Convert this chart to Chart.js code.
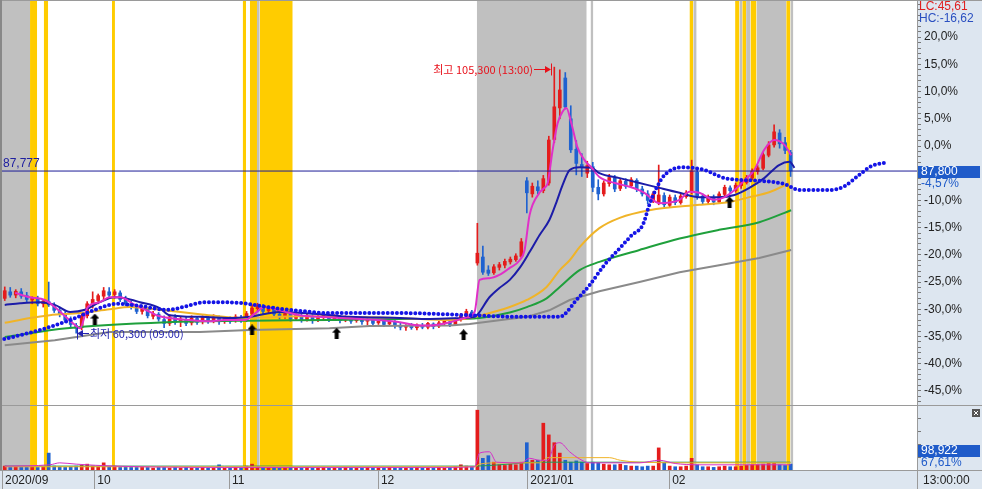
<!DOCTYPE html>
<html lang="ko">
<head>
<meta charset="utf-8">
<title>주가 차트</title>
<script src="https://cdn.jsdelivr.net/npm/chart.js@4.4.1/dist/chart.umd.min.js"></script>
<style>
  html, body { margin: 0; padding: 0; background: #fff; }
  #wrap { width: 982px; height: 489px; }
</style>
</head>
<body>
<div id="wrap"><canvas id="chart" width="982" height="489"></canvas></div>
<script>
// 가격은 기준가 대비 % (오른쪽 축 단위)
const opens = [
  -28.0,-26.8,-27.4,-26.8,-27.5,-28.3,-28.0,-29.0,-28.6,-29.3,
  -30.2,-31.0,-32.0,-33.0,-33.4,-31.2,-29.2,-28.4,-27.6,-26.8,
  -27.3,-27.0,-28.2,-29.0,-29.7,-30.4,-30.0,-31.3,-30.9,-31.9,
  -32.6,-31.5,-32.3,-31.9,-32.5,-31.7,-32.3,-31.6,-32.1,-31.5,
  -32.2,-31.8,-32.1,-31.5,-32.0,-30.8,-29.9,-29.5,-30.3,-29.9,
  -30.9,-31.3,-30.9,-31.7,-31.2,-31.9,-31.4,-32.0,-31.5,-31.2,
  -31.8,-31.4,-32.0,-31.6,-32.1,-31.7,-32.2,-32.0,-32.5,-32.1,
  -32.7,-32.3,-33.0,-33.3,-33.1,-33.4,-33.0,-33.3,-32.7,-33.1,
  -32.6,-32.3,-32.8,-31.9,-31.3,-30.5,-21.5,-20.4,-22.8,-23.3,
  -22.3,-21.9,-21.3,-20.9,-20.3,-6.4,-8.8,-7.5,-8.2,-6.8,
  1.2,7.0,12.5,5.0,-0.6,-3.4,-5.0,-3.8,-7.6,-8.8,
  -6.9,-5.9,-7.8,-6.5,-7.3,-6.3,-7.9,-8.8,-10.1,-10.4,
  -9.1,-10.9,-9.5,-10.4,-9.3,-8.4,-4.8,-9.2,-10.2,-9.5,
  -10.3,-8.9,-7.7,-8.2,-7.3,-6.7,-5.9,-4.7,-4.1,-1.7,
  0.2,2.4,0.6,-1.2
];
const highs = [
  -25.9,-26.0,-26.4,-26.2,-26.9,-27.7,-27.6,-28.2,-25.0,-28.8,
  -29.6,-30.4,-31.4,-32.6,-30.8,-28.6,-26.8,-27.2,-26.0,-26.0,
  -26.4,-26.6,-27.6,-28.4,-29.2,-29.4,-29.8,-30.4,-30.6,-31.2,
  -31.0,-31.0,-31.4,-31.5,-31.2,-31.3,-31.2,-31.2,-31.0,-31.2,
  -31.3,-31.4,-31.0,-31.1,-30.4,-29.2,-28.9,-29.1,-29.4,-29.5,
  -30.2,-30.4,-30.5,-30.8,-30.8,-30.9,-31.0,-31.0,-30.8,-30.9,
  -31.0,-31.1,-31.2,-31.3,-31.3,-31.5,-31.6,-31.8,-31.8,-31.9,
  -32.0,-32.1,-32.5,-32.8,-32.6,-32.7,-32.6,-32.4,-32.5,-32.2,
  -32.0,-32.0,-31.6,-30.8,-30.0,-30.2,-14.2,-18.4,-22.0,-21.8,
  -21.4,-20.8,-20.4,-19.8,-17.0,-5.8,-6.8,-6.4,-5.4,1.8,
  14.5,14.0,13.5,7.4,1.0,-1.4,-2.8,-3.0,-6.2,-6.4,
  -5.2,-5.4,-6.0,-6.0,-5.8,-6.0,-7.4,-8.2,-8.4,-3.5,
  -8.6,-9.0,-9.0,-8.8,-8.2,-2.6,-4.2,-8.8,-9.0,-9.0,
  -8.4,-7.2,-7.3,-6.8,-6.2,-5.4,-4.2,-3.6,-1.2,0.8,
  3.9,3.0,1.6,-0.8
];
const lows = [
  -28.4,-27.8,-27.9,-28.0,-28.6,-29.0,-29.4,-29.6,-29.5,-30.6,
  -31.4,-32.4,-33.2,-34.4,-33.8,-31.6,-29.8,-29.0,-28.2,-27.8,
  -28.0,-28.6,-29.4,-30.0,-30.8,-30.9,-31.6,-31.8,-32.2,-33.4,
  -33.0,-32.8,-33.2,-33.0,-32.9,-32.8,-32.7,-32.6,-32.5,-32.8,
  -32.6,-32.6,-32.4,-32.4,-32.3,-31.2,-30.4,-30.8,-30.7,-31.2,
  -31.8,-31.7,-32.2,-32.0,-32.4,-32.2,-32.6,-32.3,-31.9,-32.3,
  -32.1,-32.5,-32.3,-32.6,-32.4,-32.8,-32.9,-33.1,-32.8,-33.2,
  -33.0,-33.5,-33.8,-33.9,-33.7,-33.8,-33.6,-33.6,-33.6,-33.4,
  -33.0,-33.2,-33.0,-32.2,-31.6,-31.6,-21.9,-23.6,-23.8,-23.6,
  -22.8,-22.4,-21.7,-21.2,-20.6,-12.3,-9.4,-8.8,-8.6,-7.2,
  0.6,5.0,6.8,-1.2,-5.3,-5.6,-5.8,-8.4,-9.9,-9.2,
  -7.4,-8.4,-8.2,-7.8,-7.6,-8.4,-9.2,-10.6,-10.4,-10.8,
  -11.2,-11.2,-10.8,-10.7,-9.6,-8.8,-9.8,-10.6,-10.6,-10.8,
  -10.6,-9.2,-8.6,-8.5,-7.8,-7.0,-6.2,-5.2,-4.4,-2.0,
  -0.2,-0.4,-1.4,-5.6
];
const closes = [
  -26.6,-27.4,-26.7,-27.6,-28.2,-27.9,-29.0,-28.5,-29.2,-30.2,
  -31.0,-32.0,-32.8,-33.5,-31.2,-29.0,-28.2,-27.5,-26.6,-27.4,
  -26.8,-28.2,-29.0,-29.6,-30.4,-29.8,-31.2,-30.8,-31.8,-32.6,
  -31.4,-32.4,-31.8,-32.6,-31.6,-32.4,-31.5,-32.2,-31.4,-32.3,
  -31.7,-32.2,-31.4,-32.0,-30.8,-29.8,-29.4,-30.4,-29.8,-30.9,
  -31.4,-30.8,-31.8,-31.1,-32.0,-31.3,-32.1,-31.4,-31.1,-31.9,
  -31.3,-32.1,-31.5,-32.2,-31.6,-32.3,-31.9,-32.6,-32.0,-32.8,
  -32.2,-33.0,-33.3,-33.0,-33.4,-32.9,-33.3,-32.6,-33.2,-32.5,
  -32.2,-32.8,-31.8,-31.2,-30.4,-31.2,-19.7,-23.2,-23.4,-22.2,
  -21.8,-21.2,-20.8,-20.2,-17.6,-8.6,-7.4,-8.2,-6.0,1.1,
  7.2,10.3,7.2,-0.7,-3.2,-4.0,-3.6,-7.6,-8.8,-6.8,
  -5.8,-7.9,-6.4,-7.4,-6.2,-7.9,-8.8,-10.0,-8.8,-9.0,
  -10.8,-9.4,-10.4,-9.2,-8.6,-4.6,-9.2,-10.2,-9.4,-10.3,
  -8.8,-7.6,-8.2,-7.2,-6.6,-5.8,-4.6,-4.0,-1.6,0.2,
  2.6,0.4,-0.8,-4.57
];
// 거래량 (하단 패널, 0~100)
const volumes = [
  6,4,5,4,4,5,4,5,26,6,
  5,4,5,6,7,9,6,5,11,5,
  6,4,5,4,4,5,4,3,4,4,
  3,4,3,4,3,3,4,3,3,8,
  3,3,4,3,6,9,5,4,3,4,
  3,3,4,3,3,4,3,3,4,3,
  3,3,4,3,3,3,4,3,3,3,
  4,3,3,3,3,4,3,3,3,4,
  3,4,5,8,6,5,92,18,22,12,
  8,7,9,8,12,42,15,15,72,54,
  42,26,15,12,14,12,10,12,11,9,
  8,8,9,7,6,6,5,6,6,34,
  11,6,5,5,6,18,8,5,5,4,
  5,6,5,5,6,7,8,8,9,10,
  10,8,7,9
];

// 이동평균선 [봉 위치, %]
const ma5Pts = [[1.9,-27.0],[4.6,-27.8],[7.3,-28.3],[9.1,-29.6],[11,-31.3],[12.8,-32.9],[13.7,-33.5],[15.1,-29.6],[17.3,-28.7],[19.1,-27.8],[21,-27.8],[23.7,-29.2],[26.4,-30.5],[28.2,-31.3],[30,-31.6],[33.7,-32.0],[37,-32.2],[40,-32.0],[43.7,-32.0],[45.5,-30.8],[47.3,-29.6],[50,-30.2],[53.7,-31.1],[57.3,-31.4],[61,-31.6],[66.4,-31.9],[71.9,-32.4],[74.6,-32.9],[77.3,-33.0],[81,-32.4],[83.7,-31.6],[85.5,-30.5],[86.4,-24.6],[88.2,-24.3],[90,-23.7],[91.9,-22.4],[93.7,-21.0],[94.6,-19.1],[95.5,-12.7],[97.3,-8.6],[98.2,-7.7],[98.8,-6.8],[99.7,-0.7],[100.6,4.2],[101.5,6.3],[102.2,7.0],[103.1,4.2],[104.2,-0.2],[105.5,-2.6],[106.8,-4.0],[108.2,-5.7],[111,-6.8],[113.7,-7.5],[116.4,-8.6],[119.1,-10.5],[122.8,-9.9],[124.6,-8.4],[126.4,-8.6],[129.1,-9.9],[131,-9.4],[132.8,-8.1],[134.6,-6.3],[136.4,-4.4],[138.2,-0.7],[140,1.1],[141.9,0.2],[143.1,-1.7]];
const ma20Pts = [[0,-29.2],[2.8,-28.9],[6.4,-28.7],[9.1,-29.2],[11.9,-30.5],[14.6,-30.1],[17.3,-28.7],[20,-27.8],[21.9,-28.0],[24.6,-28.7],[28.2,-29.8],[30,-31.1],[35.5,-31.4],[41.9,-31.6],[44.6,-31.4],[50,-30.5],[57.3,-30.9],[62.8,-31.4],[71.9,-31.6],[77.3,-31.8],[83.7,-31.6],[85.5,-31.4],[88.2,-27.8],[90,-26.1],[91.9,-24.6],[93.7,-22.4],[95.5,-19.5],[97.3,-16.4],[99.1,-13.6],[100.4,-10.3],[101.5,-7.2],[102.8,-4.4],[104.6,-3.9],[106.8,-4.0],[108.2,-5.0],[111.9,-5.9],[115.5,-6.8],[119.1,-7.7],[122.8,-8.6],[126.4,-9.4],[130,-9.4],[132.8,-9.0],[135.5,-7.7],[138.2,-5.9],[140.9,-3.5],[142.8,-2.9],[143.7,-4.0]];
const ma60Pts = [[0,-32.5],[4.6,-31.6],[8.2,-31.1],[13.7,-30.7],[19.1,-30.0],[22.8,-29.6],[28.2,-30.1],[35.5,-30.9],[42.8,-31.6],[53.7,-31.3],[61,-31.4],[71.9,-31.6],[81,-32.0],[84.6,-31.6],[86.4,-31.2],[91.9,-29.6],[95,-28.3],[98.6,-25.9],[101,-22.8],[102.8,-21.0],[104.6,-18.6],[108.2,-15.1],[111.9,-13.2],[117.3,-11.8],[126.4,-10.8],[131.9,-10.3],[135.5,-9.4],[139.1,-8.5],[142.8,-6.8]];
const ma120Pts = [[0,-35.1],[11.3,-33.5],[29.5,-32.4],[44.6,-32.1],[59.1,-32.0],[71.9,-31.8],[81,-31.8],[86.4,-31.6],[91.9,-30.6],[95,-29.6],[98.6,-28.0],[101,-25.9],[104.6,-22.8],[108.2,-21.3],[115.5,-19.1],[122.8,-17.0],[130,-15.4],[137.3,-14.0],[143.1,-11.8]];
const ma240Pts = [[0,-36.6],[9.1,-35.7],[19.1,-34.2],[35.5,-34.2],[44.6,-33.8],[59.1,-33.5],[66.4,-33.1],[81,-33.0],[84.6,-32.7],[86.4,-32.5],[95,-31.4],[99.1,-30.2],[102.8,-28.3],[108.2,-26.7],[115.5,-25.0],[122.8,-23.2],[130,-21.9],[137.3,-20.6],[143.1,-19.1]];
// 점선 (선행 지표)
const dotPts = [[-0.9,-35.7],[6.4,-33.8],[11.9,-32.0],[16.4,-30.1],[20.4,-29.0],[24.6,-29.4],[29.5,-30.1],[36.8,-28.7],[43.3,-28.9],[47.7,-29.6],[53.7,-30.3],[59.1,-30.7],[71.9,-30.7],[84.6,-31.1],[93.7,-31.4],[101,-31.4],[101.9,-30.9],[103.7,-28.7],[106.4,-25.6],[109.1,-21.9],[111.9,-18.8],[114.1,-16.4],[116.1,-14.5],[117.3,-10.8],[118.6,-7.7],[120.1,-5.3],[123.3,-3.9],[127.3,-4.4],[131,-5.9],[137.3,-6.4],[141.9,-7.0],[144.6,-8.1],[150.1,-8.1],[152.8,-7.4],[155.5,-5.3],[157.7,-3.7],[160.1,-3.1]];
// 거래량 이동평균
const volMa5Pts = [[0,6],[8.2,8],[10,11],[13,9],[20,6],[40,4],[80,4],[85.5,5],[86.4,26],[88.2,28],[89.5,12],[94,11],[95.5,18],[97.3,15],[98.8,15],[100,38],[101,42],[102.8,28],[104.6,17],[106.4,11],[115.5,11],[119.1,15],[122,10],[126,8],[143,8]];
const volMa20Pts = [[0,5],[40,5],[85.5,5],[86.4,9],[90,11],[97.3,11],[98.8,19],[110,19],[112,15],[115.5,12],[125,11],[143,11]];
const volMa60Pts = [[0,6],[40,6],[85.5,6],[90,8],[97.3,12],[143,12]];

// 매수 신호 화살표
const arrowX = [16.4, 45, 60.4, 83.5, 131.9];
const arrowY = [-31.8, -33.8, -34.4, -34.7, -10.3];

// 배경 구간 [시작, 끝]
const grayBands = [[-0.5,4.6],[45.9,46.4],[85.9,105.9],[106.6,107.1],[125.3,125.9],[133.7,134.2],[134.9,135.7],[136.8,142.2],[142.96,143.5]];
const yellowBands = [[4.6,5.9],[7.1,7.9],[19.5,20.05],[43.3,43.9],[44.6,45.9],[46.4,52.4],[124.6,125.3],[132.9,133.7],[134.2,134.9],[135.7,136.8],[142.2,142.96]];

const monthPos = [-0.5, 16.3, 40.8, 67.9, 95.1, 120.9];
const monthLabels = ['2020/09', '10', '11', '12', '2021/01', '02'];
const yLabelVals = [20, 15, 10, 5, 0, -5, -10, -15, -20, -25, -30, -35, -40, -45];
const volTickVals = [20, 40, 60, 80];

const refLinePct = -4.6;
const refLineText = '87,777';
const lastPriceText = '87,800';
const lastPctText = '-4,57%';
const volText = '98,922';
const volPctText = '67,61%';
const volLabelAt = 29;
const lcText = 'LC:45,61';
const hcText = 'HC:-16,62';
const timeText = '13:00:00';
const hiText = '최고 105,300 (13:00)';
const loText = '최저 60,300 (09:00)';

const xMin = -0.5, xMax = 166;
const yMin = -47.6, yMax = 26.65;

const upColor = '#e41c1c';
const downColor = '#1f62d0';
const NUM_FONT = '12px "Liberation Sans", Arial, sans-serif';
const KR_FONT = '11px "Noto Sans CJK KR", sans-serif';

const idx = closes.map((_, i) => i);
const candleColor = i => closes[i] >= opens[i] ? upColor : downColor;
const toPts = arr => arr.map(([x, y]) => ({x, y}));

function makeArrow() {
    const c = document.createElement('canvas');
    c.width = 9; c.height = 11;
    const g = c.getContext('2d');
    g.fillStyle = '#000';
    g.beginPath();
    g.moveTo(4.5, 0); g.lineTo(9, 5); g.lineTo(6.5, 5); g.lineTo(6.5, 11);
    g.lineTo(2.5, 11); g.lineTo(2.5, 5); g.lineTo(0, 5);
    g.closePath(); g.fill();
    return c;
}

function lineSet(pts, color, width, axis, extra) {
    return Object.assign({
        type: 'line', yAxisID: axis, data: toPts(pts),
        borderColor: color, borderWidth: width, pointRadius: 0,
        tension: 0, cubicInterpolationMode: 'monotone', fill: false, order: 1
    }, extra || {});
}

function bandSet(band, color) {
    return {
        type: 'line', yAxisID: 'yb',
        data: [{x: band[0], y: 1}, {x: band[1], y: 1}],
        borderWidth: 0, borderColor: 'transparent', pointRadius: 0,
        backgroundColor: color, fill: 'start', order: 10
    };
}

function seg(ctx, x1, y1, x2, y2) {
    ctx.beginPath(); ctx.moveTo(x1, y1); ctx.lineTo(x2, y2); ctx.stroke();
}

// 배경, 구분선, 라벨
const decor = {
    id: 'decor',
    beforeDraw(chart) {
        const {ctx, chartArea: a, width, height} = chart;
        ctx.save();
        ctx.fillStyle = '#fff';
        ctx.fillRect(0, 0, width, height);
        ctx.fillStyle = '#dde6f0';
        ctx.fillRect(a.right, 0, width - a.right, height);
        ctx.fillRect(0, a.bottom, width, height - a.bottom);
        ctx.restore();
    },
    afterDraw(chart) {
        const {ctx, chartArea: a, width, height} = chart;
        const {x, y, yv} = chart.scales;
        ctx.save();
        ctx.lineWidth = 1;
        ctx.strokeStyle = '#9a9a9a';
        seg(ctx, 0, 0.5, width, 0.5);
        seg(ctx, 0, Math.round(yv.top) + 0.5, width, Math.round(yv.top) + 0.5);
        seg(ctx, 0, Math.round(a.bottom) + 0.5, width, Math.round(a.bottom) + 0.5);
        monthPos.forEach(v => {
            const px = Math.round(x.getPixelForValue(v)) + 0.5;
            seg(ctx, px, a.bottom, px, height);
        });
        seg(ctx, Math.round(a.right) + 0.5, a.bottom, Math.round(a.right) + 0.5, height);
        ctx.strokeStyle = '#888';
        ctx.lineWidth = 2;
        seg(ctx, 1, 0, 1, a.bottom);

        // 최고가 표시
        const iHi = highs.indexOf(Math.max(...highs));
        const hx = Math.round(x.getPixelForValue(iHi));
        const hy = Math.round(y.getPixelForValue(highs[iHi])) + 2.5;
        ctx.lineWidth = 1;
        ctx.strokeStyle = ctx.fillStyle = '#e8101a';
        seg(ctx, hx - 20, hy, hx - 6, hy);
        ctx.beginPath();
        ctx.moveTo(hx - 3, hy); ctx.lineTo(hx - 9, hy - 3.5); ctx.lineTo(hx - 9, hy + 3.5);
        ctx.closePath(); ctx.fill();
        seg(ctx, hx - 2.5, hy - 6, hx - 2.5, hy + 6);
        ctx.font = KR_FONT;
        ctx.textAlign = 'right';
        ctx.textBaseline = 'middle';
        ctx.fillText(hiText, hx - 21, hy);

        // 최저가 표시
        const iLo = lows.indexOf(Math.min(...lows));
        const lx = Math.round(x.getPixelForValue(iLo));
        const ly = Math.round(y.getPixelForValue(lows[iLo])) + 0.5;
        ctx.strokeStyle = ctx.fillStyle = '#2424b0';
        seg(ctx, lx + 5, ly, lx + 13, ly);
        ctx.beginPath();
        ctx.moveTo(lx + 1, ly); ctx.lineTo(lx + 7, ly - 3.5); ctx.lineTo(lx + 7, ly + 3.5);
        ctx.closePath(); ctx.fill();
        seg(ctx, lx + 1.5, ly - 6, lx + 1.5, ly + 6);
        ctx.textAlign = 'left';
        ctx.fillText(loText, lx + 14, ly);

        // 기준선 라벨
        const ry = y.getPixelForValue(refLinePct);
        ctx.font = NUM_FONT;
        ctx.fillStyle = '#2020a0';
        ctx.textBaseline = 'bottom';
        ctx.fillText(refLineText, 3, ry - 1);

        // 오른쪽 패널 라벨
        const rx = a.right + 2;
        ctx.textBaseline = 'top';
        ctx.fillStyle = '#e02020';
        ctx.fillText(lcText, rx, 1);
        ctx.fillStyle = '#2a4fc0';
        ctx.fillText(hcText, rx, 13);

        const py = Math.round(y.getPixelForValue(closes[closes.length - 1]));
        ctx.fillStyle = '#1f5bc9';
        ctx.fillRect(a.right + 1, py - 5, width - a.right - 3, 12);
        ctx.fillStyle = '#fff';
        ctx.textBaseline = 'middle';
        ctx.fillText(lastPriceText, rx + 2, py + 1);
        ctx.fillStyle = '#1f5bc9';
        ctx.fillText(lastPctText, rx + 2, py + 13);

        const vy = Math.round(yv.getPixelForValue(volLabelAt));
        ctx.fillRect(a.right + 1, vy - 6, width - a.right - 3, 12);
        ctx.fillStyle = '#fff';
        ctx.fillText(volText, rx + 2, vy);
        ctx.fillStyle = '#1f5bc9';
        ctx.fillText(volPctText, rx + 2, vy + 12);

        // 닫기 버튼
        const bx = width - 10, by = Math.round(yv.top) + 4;
        ctx.fillStyle = '#555';
        ctx.fillRect(bx, by, 8, 8);
        ctx.strokeStyle = '#fff';
        seg(ctx, bx + 2, by + 2, bx + 6, by + 6);
        seg(ctx, bx + 6, by + 2, bx + 2, by + 6);

        ctx.fillStyle = '#222';
        ctx.fillText(timeText, rx + 4, (a.bottom + height) / 2 + 1);
        ctx.restore();
    }
};

Chart.defaults.font.family = '"Liberation Sans", Arial, sans-serif';
Chart.defaults.font.size = 12;

const datasets = [
    {
        type: 'line', yAxisID: 'y', data: arrowX.map((v, k) => ({x: v, y: arrowY[k]})),
        showLine: false, pointStyle: makeArrow(), pointRadius: 5, order: 0
    },
    lineSet(dotPts, '#1414e6', 4, 'y', {borderDash: [0, 4.6], borderCapStyle: 'round', order: 0}),
    lineSet([[xMin, refLinePct], [xMax, refLinePct]], '#1c1c96', 1, 'y', {cubicInterpolationMode: 'default'}),
    lineSet(ma5Pts, '#e030c8', 2, 'y'),
    lineSet(ma20Pts, '#1c1ca8', 2, 'y'),
    lineSet(ma60Pts, '#f0b428', 2, 'y'),
    lineSet(ma120Pts, '#1fa03c', 2, 'y'),
    lineSet(ma240Pts, '#8a8a8a', 2, 'y', {cubicInterpolationMode: 'default'}),
    {
        type: 'bar', yAxisID: 'y', grouped: false, order: 2,
        data: idx.map(i => ({x: i, y: [opens[i], closes[i]]})),
        barThickness: 3, minBarLength: 1,
        backgroundColor: c => candleColor(c.dataIndex)
    },
    {
        type: 'bar', yAxisID: 'y', grouped: false, order: 3,
        data: idx.map(i => ({x: i, y: [lows[i], highs[i]]})),
        barThickness: 1,
        backgroundColor: c => candleColor(c.dataIndex)
    },
    lineSet(volMa5Pts, '#d530c8', 1, 'yv'),
    lineSet(volMa20Pts, '#f0b428', 1, 'yv'),
    lineSet(volMa60Pts, '#1f9a50', 1, 'yv'),
    {
        type: 'bar', yAxisID: 'yv', grouped: false, order: 3,
        data: idx.map(i => ({x: i, y: volumes[i]})),
        barThickness: 3,
        backgroundColor: c => candleColor(c.dataIndex)
    },
    ...grayBands.map(b => bandSet(b, '#c0c0c0')),
    ...yellowBands.map(b => bandSet(b, '#ffcc00'))
];

const yTickVals = [];
for (let v = -47; v <= 26; v++) yTickVals.push(v);

new Chart(document.getElementById('chart'), {
    type: 'line',
    data: { datasets },
    plugins: [decor],
    options: {
        responsive: false,
        animation: false,
        devicePixelRatio: 1,
        events: [],
        layout: { autoPadding: false, padding: { left: 2, top: 1, right: 0, bottom: 0 } },
        plugins: {
            legend: { display: false },
            tooltip: { enabled: false },
            filler: { drawTime: 'beforeDatasetsDraw' }
        },
        scales: {
            x: {
                type: 'linear', min: xMin, max: xMax, offset: false,
                afterBuildTicks: s => { s.ticks = monthPos.map(v => ({value: v})); },
                afterFit: s => { s.height = 19; s.paddingLeft = 0; s.paddingRight = 0; },
                grid: { drawOnChartArea: false, drawTicks: false, offset: false },
                border: { display: false },
                ticks: {
                    autoSkip: false, maxRotation: 0, align: 'start', labelOffset: 3, padding: 3,
                    color: '#222', callback: (v, k) => monthLabels[k]
                }
            },
            y: {
                position: 'right', stack: 'pane', stackWeight: 404, min: yMin, max: yMax,
                afterBuildTicks: s => { s.ticks = yTickVals.map(v => ({value: v})); },
                afterFit: s => { s.width = 65; s.paddingTop = 0; s.paddingBottom = 0; },
                grid: { drawOnChartArea: false, drawTicks: true, tickLength: 4, color: '#777' },
                border: { color: '#9a9a9a' },
                ticks: {
                    autoSkip: false, padding: 3, color: '#222',
                    callback: v => yLabelVals.includes(v) ? v.toFixed(1).replace('.', ',') + '%' : ''
                }
            },
            yv: {
                position: 'right', stack: 'pane', stackWeight: 65, min: 0, max: 100,
                afterBuildTicks: s => { s.ticks = volTickVals.map(v => ({value: v})); },
                afterFit: s => { s.width = 65; s.paddingTop = 0; s.paddingBottom = 0; },
                grid: { drawOnChartArea: false, drawTicks: true, tickLength: 4, color: '#777' },
                border: { color: '#9a9a9a' },
                ticks: { autoSkip: false, padding: 3, callback: () => '' }
            },
            yb: { display: false, min: 0, max: 1 }
        }
    }
});
</script>
</body>
</html>
